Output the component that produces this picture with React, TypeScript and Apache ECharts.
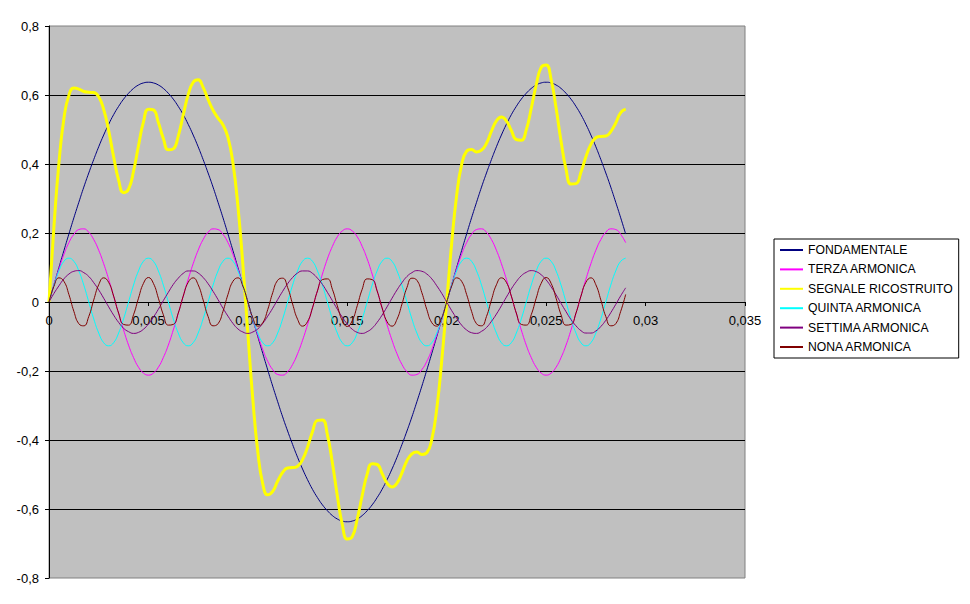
import { useEffect, useRef } from 'react'
import * as echarts from 'echarts'

// sampling grid of the spreadsheet (seconds), 0 .. 0.029
const TIME_STEP = 0.00025

const seriesNames = [
  'FONDAMENTALE',
  'TERZA ARMONICA',
  'SEGNALE RICOSTRUITO',
  'QUINTA ARMONICA',
  'SETTIMA ARMONICA',
  'NONA ARMONICA'
]

const fondamentale = [
  0, 0.050, 0.100, 0.149, 0.197, 0.244, 0.289, 0.333, 0.374, 0.413, 0.450, 0.484, 0.515, 0.543, 0.567, 0.588, 0.605, 0.619, 0.629, 0.635, 0.637,
  0.635, 0.629, 0.619, 0.605, 0.588, 0.567, 0.543, 0.515, 0.484, 0.450, 0.413, 0.374, 0.333, 0.289, 0.244, 0.197, 0.149, 0.100, 0.050, 0,
  -0.050, -0.100, -0.149, -0.197, -0.244, -0.289, -0.333, -0.374, -0.413, -0.450, -0.484, -0.515, -0.543, -0.567, -0.588, -0.605, -0.619, -0.629, -0.635, -0.637,
  -0.635, -0.629, -0.619, -0.605, -0.588, -0.567, -0.543, -0.515, -0.484, -0.450, -0.413, -0.374, -0.333, -0.289, -0.244, -0.197, -0.149, -0.100, -0.050, 0,
  0.050, 0.100, 0.149, 0.197, 0.244, 0.289, 0.333, 0.374, 0.413, 0.450, 0.484, 0.515, 0.543, 0.567, 0.588, 0.605, 0.619, 0.629, 0.635, 0.637,
  0.635, 0.629, 0.619, 0.605, 0.588, 0.567, 0.543, 0.515, 0.484, 0.450, 0.413, 0.374, 0.333, 0.289, 0.244, 0.197
]

const terzaArmonica = [
  0, 0.050, 0.096, 0.138, 0.172, 0.196, 0.210, 0.212, 0.202, 0.181, 0.150, 0.111, 0.066, 0.017, -0.033, -0.081, -0.125, -0.161, -0.189, -0.206, -0.212,
  -0.206, -0.189, -0.161, -0.125, -0.081, -0.033, 0.017, 0.066, 0.111, 0.150, 0.181, 0.202, 0.212, 0.210, 0.196, 0.172, 0.138, 0.096, 0.050, 0,
  -0.050, -0.096, -0.138, -0.172, -0.196, -0.210, -0.212, -0.202, -0.181, -0.150, -0.111, -0.066, -0.017, 0.033, 0.081, 0.125, 0.161, 0.189, 0.206, 0.212,
  0.206, 0.189, 0.161, 0.125, 0.081, 0.033, -0.017, -0.066, -0.111, -0.150, -0.181, -0.202, -0.212, -0.210, -0.196, -0.172, -0.138, -0.096, -0.050, 0,
  0.050, 0.096, 0.138, 0.172, 0.196, 0.210, 0.212, 0.202, 0.181, 0.150, 0.111, 0.066, 0.017, -0.033, -0.081, -0.125, -0.161, -0.189, -0.206, -0.212,
  -0.206, -0.189, -0.161, -0.125, -0.081, -0.033, 0.017, 0.066, 0.111, 0.150, 0.181, 0.202, 0.212, 0.210, 0.196, 0.172
]

const segnaleRicostruito = [
  0, 0.220, 0.403, 0.532, 0.599, 0.620, 0.617, 0.610, 0.608, 0.607, 0.595, 0.558, 0.497, 0.421, 0.353, 0.317, 0.327, 0.379, 0.453, 0.522, 0.559,
  0.557, 0.520, 0.474, 0.441, 0.444, 0.481, 0.542, 0.601, 0.637, 0.644, 0.622, 0.587, 0.556, 0.533, 0.513, 0.477, 0.403, 0.278, 0.108, -0.091,
  -0.282, -0.434, -0.527, -0.559, -0.549, -0.519, -0.494, -0.481, -0.480, -0.476, -0.457, -0.421, -0.376, -0.343, -0.342, -0.385, -0.466, -0.562, -0.645, -0.687,
  -0.680, -0.629, -0.561, -0.499, -0.469, -0.471, -0.497, -0.525, -0.536, -0.525, -0.495, -0.460, -0.440, -0.435, -0.442, -0.437, -0.398, -0.309, -0.170, 0,
  0.170, 0.309, 0.398, 0.437, 0.442, 0.435, 0.440, 0.460, 0.495, 0.525, 0.536, 0.525, 0.497, 0.471, 0.469, 0.499, 0.561, 0.629, 0.680, 0.687,
  0.645, 0.562, 0.466, 0.385, 0.342, 0.343, 0.376, 0.421, 0.457, 0.476, 0.480, 0.481, 0.494, 0.519, 0.549, 0.559
]

const quintaArmonica = [
  0, 0.049, 0.090, 0.118, 0.127, 0.118, 0.090, 0.049, 0, -0.049, -0.090, -0.118, -0.127, -0.118, -0.090, -0.049,
  0, 0.049, 0.090, 0.118, 0.127, 0.118, 0.090, 0.049, 0, -0.049, -0.090, -0.118, -0.127, -0.118, -0.090, -0.049,
  0, 0.049, 0.090, 0.118, 0.127, 0.118, 0.090, 0.049, 0, -0.049, -0.090, -0.118, -0.127, -0.118, -0.090, -0.049,
  0, 0.049, 0.090, 0.118, 0.127, 0.118, 0.090, 0.049, 0, -0.049, -0.090, -0.118, -0.127, -0.118, -0.090, -0.049,
  0, 0.049, 0.090, 0.118, 0.127, 0.118, 0.090, 0.049, 0, -0.049, -0.090, -0.118, -0.127, -0.118, -0.090, -0.049,
  0, 0.049, 0.090, 0.118, 0.127, 0.118, 0.090, 0.049, 0, -0.049, -0.090, -0.118, -0.127, -0.118, -0.090, -0.049,
  0, 0.049, 0.090, 0.118, 0.127, 0.118, 0.090, 0.049, 0, -0.049, -0.090, -0.118, -0.127, -0.118, -0.090, -0.049,
  0, 0.049, 0.090, 0.118, 0.127
]

const settimaArmonica = [
  0, 0.025, 0.047, 0.067, 0.081, 0.089, 0.091, 0.085, 0.074, 0.056, 0.035, 0.011, -0.014, -0.038, -0.059, -0.076, -0.086, -0.091, -0.088, -0.079, -0.064,
  -0.044, -0.021, 0.004, 0.028, 0.051, 0.069, 0.083, 0.090, 0.090, 0.084, 0.071, 0.053, 0.031, 0.007, -0.018, -0.041, -0.062, -0.078, -0.087, -0.091,
  -0.087, -0.078, -0.062, -0.041, -0.018, 0.007, 0.031, 0.053, 0.071, 0.084, 0.090, 0.090, 0.083, 0.069, 0.051, 0.028, 0.004, -0.021, -0.044, -0.064,
  -0.079, -0.088, -0.091, -0.086, -0.076, -0.059, -0.038, -0.014, 0.011, 0.035, 0.056, 0.074, 0.085, 0.091, 0.089, 0.081, 0.067, 0.047, 0.025, 0,
  -0.025, -0.047, -0.067, -0.081, -0.089, -0.091, -0.085, -0.074, -0.056, -0.035, -0.011, 0.014, 0.038, 0.059, 0.076, 0.086, 0.091, 0.088, 0.079, 0.064,
  0.044, 0.021, -0.004, -0.028, -0.051, -0.069, -0.083, -0.090, -0.090, -0.084, -0.071, -0.053, -0.031, -0.007, 0.018, 0.041
]

const nonaArmonica = [
  0, 0.046, 0.070, 0.060, 0.022, -0.027, -0.063, -0.069, -0.042, 0.006, 0.050, 0.070, 0.057, 0.017, -0.032, -0.065, -0.067, -0.037, 0.011, 0.054, 0.071,
  0.054, 0.011, -0.037, -0.067, -0.065, -0.032, 0.017, 0.057, 0.070, 0.050, 0.006, -0.042, -0.069, -0.063, -0.027, 0.022, 0.060, 0.070, 0.046, 0,
  -0.046, -0.070, -0.060, -0.022, 0.027, 0.063, 0.069, 0.042, -0.006, -0.050, -0.070, -0.057, -0.017, 0.032, 0.065, 0.067, 0.037, -0.011, -0.054, -0.071,
  -0.054, -0.011, 0.037, 0.067, 0.065, 0.032, -0.017, -0.057, -0.070, -0.050, -0.006, 0.042, 0.069, 0.063, 0.027, -0.022, -0.060, -0.070, -0.046, 0,
  0.046, 0.070, 0.060, 0.022, -0.027, -0.063, -0.069, -0.042, 0.006, 0.050, 0.070, 0.057, 0.017, -0.032, -0.065, -0.067, -0.037, 0.011, 0.054, 0.071,
  0.054, 0.011, -0.037, -0.067, -0.065, -0.032, 0.017, 0.057, 0.070, 0.050, 0.006, -0.042, -0.069, -0.063, -0.027, 0.022
]

const seriesValues = [fondamentale, terzaArmonica, segnaleRicostruito, quintaArmonica, settimaArmonica, nonaArmonica]
const seriesColors = ['#000080', '#FF00FF', '#FFFF00', '#00FFFF', '#800080', '#800000']
const seriesWidths = [1, 1, 3, 1, 1, 1]

const FONT = 'Liberation Sans, Arial, sans-serif'
const GRID_HEIGHT = 552

// Italian number format: comma as decimal separator
const fmt = (v: number) => String(+v.toFixed(3)).replace('.', ',')

export default function App() {
  const chartRef = useRef<HTMLDivElement>(null)

  useEffect(() => {
    if (!chartRef.current) return

    const chart = echarts.init(chartRef.current, null, { renderer: 'svg' })

    const series = seriesNames.map((name, k) => ({
      name,
      type: 'line',
      data: seriesValues[k].map((v, i) => [i * TIME_STEP, v]),
      smooth: true,
      symbol: 'circle',
      showSymbol: false,
      lineStyle: { color: seriesColors[k], width: seriesWidths[k] },
      itemStyle: { color: seriesColors[k] },
      emphasis: { disabled: true }
    }))

    const option = {
      animation: false,
      grid: {
        left: 49,
        top: 26,
        width: 696,
        height: GRID_HEIGHT,
        show: true,
        backgroundColor: '#C0C0C0',
        borderColor: '#808080',
        borderWidth: 1
      },
      legend: {
        data: seriesNames,
        orient: 'vertical',
        left: 774,
        top: 239,
        padding: [5, 6, 5, 5],
        itemGap: 7.4,
        itemWidth: 23,
        itemHeight: 14,
        backgroundColor: '#FFFFFF',
        borderColor: '#000000',
        borderWidth: 1,
        borderRadius: 0,
        selectedMode: false,
        // hide the marker, keep only the line sample
        itemStyle: { opacity: 0 },
        textStyle: { fontFamily: FONT, fontSize: 12.2, color: '#000000' }
      },
      xAxis: {
        type: 'value',
        min: 0,
        max: 0.035,
        interval: 0.005,
        position: 'bottom',
        // the axis crosses the plot at value 0 (middle of the grid)
        offset: -GRID_HEIGHT / 2,
        axisLine: { onZero: false, lineStyle: { color: '#000000', width: 1 } },
        axisTick: { show: true, length: 4, lineStyle: { color: '#000000' } },
        axisLabel: { formatter: fmt, color: '#000000', fontFamily: FONT, fontSize: 13, margin: 12 },
        splitLine: { show: false }
      },
      yAxis: {
        type: 'value',
        min: -0.8,
        max: 0.8,
        interval: 0.2,
        axisLine: { show: true, onZero: false, lineStyle: { color: '#000000', width: 1 } },
        axisTick: { show: true, length: 4, lineStyle: { color: '#000000' } },
        axisLabel: { formatter: fmt, color: '#000000', fontFamily: FONT, fontSize: 13, margin: 10 },
        splitLine: { show: true, showMinLine: false, showMaxLine: false, lineStyle: { color: '#000000', width: 1 } }
      },
      series
    }

    chart.setOption(option)

    return () => {
      chart.dispose()
    }
  }, [])

  return (
    <div
      ref={chartRef}
      style={{ position: 'absolute', left: 0, top: 0, width: '970px', height: '604px', background: '#FFFFFF' }}
    />
  )
}
